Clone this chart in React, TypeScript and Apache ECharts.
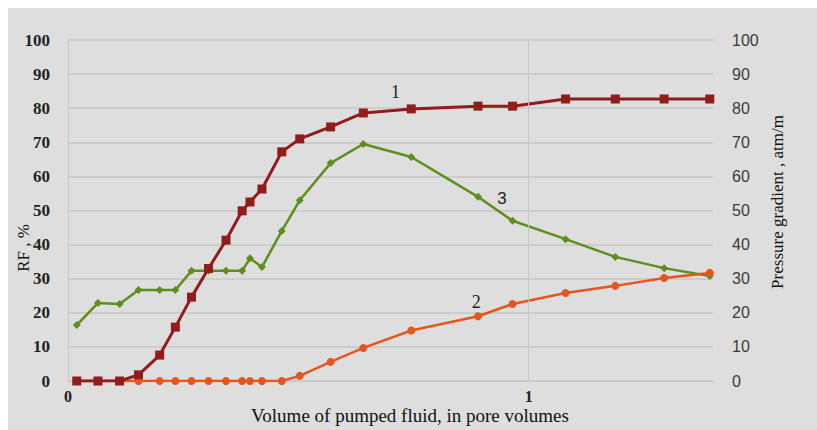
import React, { useEffect, useRef } from "react";
import * as echarts from "echarts";

const xValues = [0.019, 0.065, 0.112, 0.153, 0.199, 0.233, 0.268, 0.305, 0.343, 0.378, 0.395, 0.421, 0.464, 0.503, 0.57, 0.641, 0.745, 0.89, 0.965, 1.08, 1.188, 1.294, 1.393];
const curve1 = [0, 0, 0, 1.8, 7.6, 15.8, 24.6, 33, 41.3, 49.9, 52.5, 56.3, 67.2, 71, 74.5, 78.6, 79.8, 80.6, 80.6, 82.7, 82.7, 82.7, 82.7];
const curve2 = [0, 0, 0, 0, 0, 0, 0, 0, 0, 0, 0, 0, 0, 1.5, 5.6, 9.7, 14.8, 19, 22.6, 25.8, 27.9, 30.2, 31.7];
const curve3 = [16.4, 22.9, 22.6, 26.7, 26.7, 26.7, 32.3, 32.3, 32.3, 32.3, 36, 33.4, 44, 53, 63.9, 69.5, 65.7, 54, 47, 41.6, 36.4, 33.1, 30.8];
const curveLabels = [
  { name: "1", x: 0.711, y: 84.7 },
  { name: "2", x: 0.886, y: 23.2 },
  { name: "3", x: 0.942, y: 53.4 },
];
const yMin = 0;
const yMax = 100;
const yStep = 10;
const xMin = 0;
const xMax = 1.4;
const xMarks = [1];

const SERIF = "'Liberation Serif', 'DejaVu Serif', serif";
const SANS = "'Liberation Sans', 'Noto Sans', sans-serif";
const GRID = "#c6c6c6";

const pairs = (ys: number[]) => xValues.map((x, i) => [x, ys[i]]);

export default function App() {
  const ref = useRef<HTMLDivElement>(null);
  useEffect(() => {
    document.body.style.margin = "0";
    if (!ref.current) return;
    const chart = echarts.init(ref.current, null, { renderer: "svg" });
    chart.setOption({
      animation: false,
      backgroundColor: "#dedede",
      grid: { left: 60, right: 104, top: 32, bottom: 49 },
      xAxis: {
        type: "value",
        min: xMin,
        max: xMax,
        interval: 1,
        axisLine: { show: true, lineStyle: { color: GRID, width: 1 } },
        axisTick: { show: false },
        splitLine: { show: false },
        axisLabel: {
          margin: 7,
          fontFamily: SERIF,
          fontWeight: "bold",
          fontSize: 16,
          color: "#222",
          showMaxLabel: false,
          formatter: (v: number) => (Number.isInteger(v) ? String(v) : ""),
        },
      },
      yAxis: [
        {
          type: "value",
          min: yMin,
          max: yMax,
          interval: yStep,
          axisLine: { show: true, lineStyle: { color: GRID } },
          axisTick: { show: false },
          splitLine: { show: true, lineStyle: { color: GRID, width: 1.5 } },
          axisLabel: { margin: 18, fontFamily: SERIF, fontWeight: "bold", fontSize: 17, color: "#222" },
        },
        {
          type: "value",
          min: yMin,
          max: yMax,
          interval: yStep,
          position: "right",
          axisLine: { show: false },
          axisTick: { show: false },
          splitLine: { show: false },
          axisLabel: { margin: 19, fontFamily: SANS, fontSize: 16, color: "#3a3a3a" },
        },
      ],
      graphic: [
        {
          type: "text",
          x: 15,
          y: 240,
          rotation: Math.PI / 2,
          style: { text: "RF , %", fontFamily: SERIF, fontSize: 17, fill: "#111", textAlign: "center", textVerticalAlign: "middle" },
        },
        {
          type: "text",
          x: 769,
          y: 194,
          rotation: Math.PI / 2,
          style: { text: "Pressure gradient , atm/m", fontFamily: SERIF, fontSize: 17, fill: "#111", textAlign: "center", textVerticalAlign: "middle" },
        },
        {
          type: "text",
          x: 402,
          y: 407,
          style: { text: "Volume of pumped fluid, in pore volumes", fontFamily: SERIF, fontSize: 19, fill: "#111", textAlign: "center", textVerticalAlign: "middle" },
        },
      ],
      series: [
        {
          name: "3",
          type: "line",
          yAxisIndex: 1,
          data: pairs(curve3),
          symbol: "diamond",
          symbolSize: 8,
          lineStyle: { color: "#5e8e1d", width: 2.5 },
          itemStyle: { color: "#5e8e1d" },
          markLine: {
            silent: true,
            symbol: "none",
            label: { show: false },
            lineStyle: { color: GRID, width: 1, type: "solid" },
            data: xMarks.map((v) => ({ xAxis: v })),
          },
          markPoint: {
            symbol: "circle",
            symbolSize: 0,
            label: { show: true, position: "inside", formatter: "{b}", fontFamily: SANS, fontSize: 17, color: "#222" },
            data: curveLabels.filter((c) => c.name === "3").map((c) => ({ name: c.name, coord: [c.x, c.y] })),
          },
        },
        {
          name: "2",
          type: "line",
          yAxisIndex: 1,
          data: pairs(curve2),
          symbol: "circle",
          symbolSize: 8,
          lineStyle: { color: "#e4561c", width: 2.5 },
          itemStyle: { color: "#e4561c" },
          markPoint: {
            symbol: "circle",
            symbolSize: 0,
            label: { show: true, position: "inside", formatter: "{b}", fontFamily: SERIF, fontSize: 18, color: "#222" },
            data: curveLabels.filter((c) => c.name === "2").map((c) => ({ name: c.name, coord: [c.x, c.y] })),
          },
        },
        {
          name: "1",
          type: "line",
          yAxisIndex: 0,
          data: pairs(curve1),
          symbol: "rect",
          symbolSize: 9,
          lineStyle: { color: "#921b1b", width: 3 },
          itemStyle: { color: "#921b1b" },
          markPoint: {
            symbol: "circle",
            symbolSize: 0,
            label: { show: true, position: "inside", formatter: "{b}", fontFamily: SERIF, fontSize: 18, color: "#222" },
            data: curveLabels.filter((c) => c.name === "1").map((c) => ({ name: c.name, coord: [c.x, c.y] })),
          },
        },
      ],
    });
    return () => chart.dispose();
  }, []);
  return (
    <div style={{ width: 817, height: 430, background: "#fff", padding: "8px 0 0 8px", boxSizing: "border-box" }}>
      <div ref={ref} style={{ width: 809, height: 422 }} />
    </div>
  );
}
